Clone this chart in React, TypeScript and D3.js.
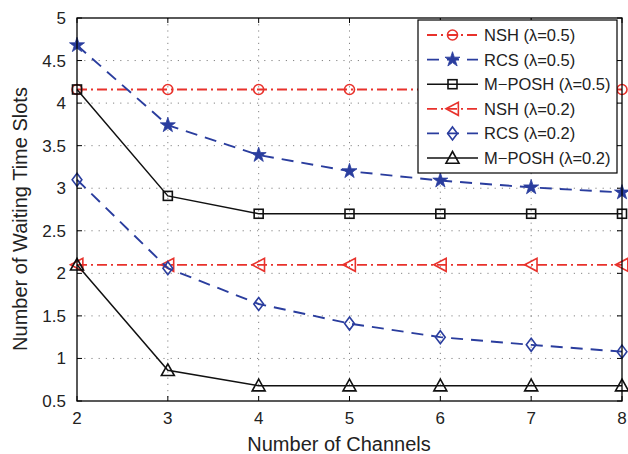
import React from "react";
import * as d3 from "d3";

const channels = [2, 3, 4, 5, 6, 7, 8];
const nsh05 = [4.16, 4.16, 4.16, 4.16, 4.16, 4.16, 4.16];
const rcs05 = [4.68, 3.74, 3.39, 3.2, 3.09, 3.01, 2.95];
const mposh05 = [4.16, 2.91, 2.7, 2.7, 2.7, 2.7, 2.7];
const nsh02 = [2.1, 2.1, 2.1, 2.1, 2.1, 2.1, 2.1];
const rcs02 = [3.1, 2.06, 1.64, 1.41, 1.25, 1.16, 1.08];
const mposh02 = [2.1, 0.86, 0.68, 0.68, 0.68, 0.68, 0.68];
const yTicks = [0.5, 1, 1.5, 2, 2.5, 3, 3.5, 4, 4.5, 5];
const xTicks = [2, 3, 4, 5, 6, 7, 8];
const seriesNames = ["NSH (λ=0.5)", "RCS (λ=0.5)", "M\u2212POSH (λ=0.5)", "NSH (λ=0.2)", "RCS (λ=0.2)", "M\u2212POSH (λ=0.2)"];

const RED = "#e8322c";
const BLUE = "#2a3d9e";
const BLACK = "#111";

const series = [
  { name: seriesNames[0], values: nsh05, color: RED, dash: "10,4,2,4", marker: "circle", width: 1.8 },
  { name: seriesNames[1], values: rcs05, color: BLUE, dash: "12,8", marker: "star", width: 1.9 },
  { name: seriesNames[2], values: mposh05, color: BLACK, dash: "", marker: "square", width: 1.5 },
  { name: seriesNames[3], values: nsh02, color: RED, dash: "10,4,2,4", marker: "ltri", width: 1.8 },
  { name: seriesNames[4], values: rcs02, color: BLUE, dash: "12,8", marker: "diamond", width: 1.9 },
  { name: seriesNames[5], values: mposh02, color: BLACK, dash: "", marker: "utri", width: 1.5 },
];

const W = 628, H = 454;
const L = 77, R = 622, T = 18, B = 401;

function Marker({ type, x, y, color }: { type: string; x: number; y: number; color: string }) {
  const sw = 1.6;
  if (type === "circle") return <circle cx={x} cy={y} r={5} fill="none" stroke={color} strokeWidth={sw} />;
  if (type === "square") return <rect x={x - 4.5} y={y - 4.5} width={9} height={9} fill="none" stroke={color} strokeWidth={sw} />;
  if (type === "star") {
    const p = d3.symbol().type(d3.symbolStar).size(70)();
    return <path d={p || ""} transform={`translate(${x},${y})`} fill={color} stroke={color} strokeWidth={0.8} />;
  }
  if (type === "diamond") {
    const s = 6.5;
    return <path d={`M${x},${y - s}L${x + s * 0.75},${y}L${x},${y + s}L${x - s * 0.75},${y}Z`} fill="none" stroke={color} strokeWidth={sw} />;
  }
  if (type === "ltri") {
    const s = 6.5;
    return <path d={`M${x - s},${y}L${x + s * 0.9},${y - s}L${x + s * 0.9},${y + s}Z`} fill="none" stroke={color} strokeWidth={sw} />;
  }
  if (type === "utri") {
    const s = 6.5;
    return <path d={`M${x},${y - s}L${x + s},${y + s * 0.8}L${x - s},${y + s * 0.8}Z`} fill="none" stroke={color} strokeWidth={sw} />;
  }
  return null;
}

export default function App() {
  const x = d3.scaleLinear().domain([2, 8]).range([L, R]);
  const y = d3.scaleLinear().domain([0.5, 5]).range([B, T]);
  const line = d3.line<number>().x((_, i) => x(channels[i])).y((d) => y(d));
  const font = "Liberation Sans, Arial, Helvetica, sans-serif";

  const lgX = 418, lgY = 20, lgW = 199, lgH = 153;
  const rowH = 24.6;

  return (
    <svg width={W} height={H} style={{ position: "absolute", left: 0, top: 0, background: "#fff" }} fontFamily={font}>
      <rect x={0} y={0} width={W} height={H} fill="#fff" />
      {/* grid */}
      {xTicks.slice(1, -1).map((t) => (
        <line key={"gx" + t} x1={x(t)} x2={x(t)} y1={T} y2={B} stroke="#777" strokeWidth={0.9} strokeDasharray="1.2,5" />
      ))}
      {yTicks.slice(1, -1).map((t) => (
        <line key={"gy" + t} x1={L} x2={R} y1={y(t)} y2={y(t)} stroke="#777" strokeWidth={0.9} strokeDasharray="1.2,6" />
      ))}
      {/* ticks */}
      {xTicks.map((t) => (
        <g key={"tx" + t}>
          <line x1={x(t)} x2={x(t)} y1={B} y2={B - 5} stroke="#000" />
          <line x1={x(t)} x2={x(t)} y1={T} y2={T + 5} stroke="#000" />
          <text x={x(t)} y={B + 23} textAnchor="middle" fontSize={17} fill="#222">{t}</text>
        </g>
      ))}
      {yTicks.map((t) => (
        <g key={"ty" + t}>
          <line x1={L} x2={L + 5} y1={y(t)} y2={y(t)} stroke="#000" />
          <line x1={R} x2={R - 5} y1={y(t)} y2={y(t)} stroke="#000" />
          <text x={L - 11} y={y(t) + 6} textAnchor="end" fontSize={17} fill="#222">{t}</text>
        </g>
      ))}
      {/* series */}
      {series.map((s) => (
        <g key={s.name}>
          <path d={line(s.values) || ""} fill="none" stroke={s.color} strokeWidth={s.width} strokeDasharray={s.dash || undefined} />
          {s.values.map((v, i) => (
            <Marker key={i} type={s.marker} x={x(channels[i])} y={y(v)} color={s.color} />
          ))}
        </g>
      ))}
      {/* frame */}
      <rect x={L} y={T} width={R - L} height={B - T} fill="none" stroke="#000" strokeWidth={1.3} />
      {/* legend */}
      <rect x={lgX} y={lgY} width={lgW} height={lgH} fill="#fff" stroke="#000" strokeWidth={1.2} />
      {series.map((s, i) => {
        const cy = lgY + 15 + i * rowH;
        return (
          <g key={"lg" + i}>
            <line x1={lgX + 9} x2={lgX + 60} y1={cy} y2={cy} stroke={s.color} strokeWidth={s.width} strokeDasharray={s.dash || undefined} />
            <Marker type={s.marker} x={lgX + 34.5} y={cy} color={s.color} />
            <text x={lgX + 66} y={cy + 6} fontSize={16.5} fill="#222">{s.name}</text>
          </g>
        );
      })}
      {/* axis titles */}
      <text x={339} y={451} textAnchor="middle" fontSize={20} fill="#222">Number of Channels</text>
      <text transform={`translate(27,219) rotate(-90)`} textAnchor="middle" fontSize={20} fill="#222">Number of Waiting Time Slots</text>
    </svg>
  );
}
